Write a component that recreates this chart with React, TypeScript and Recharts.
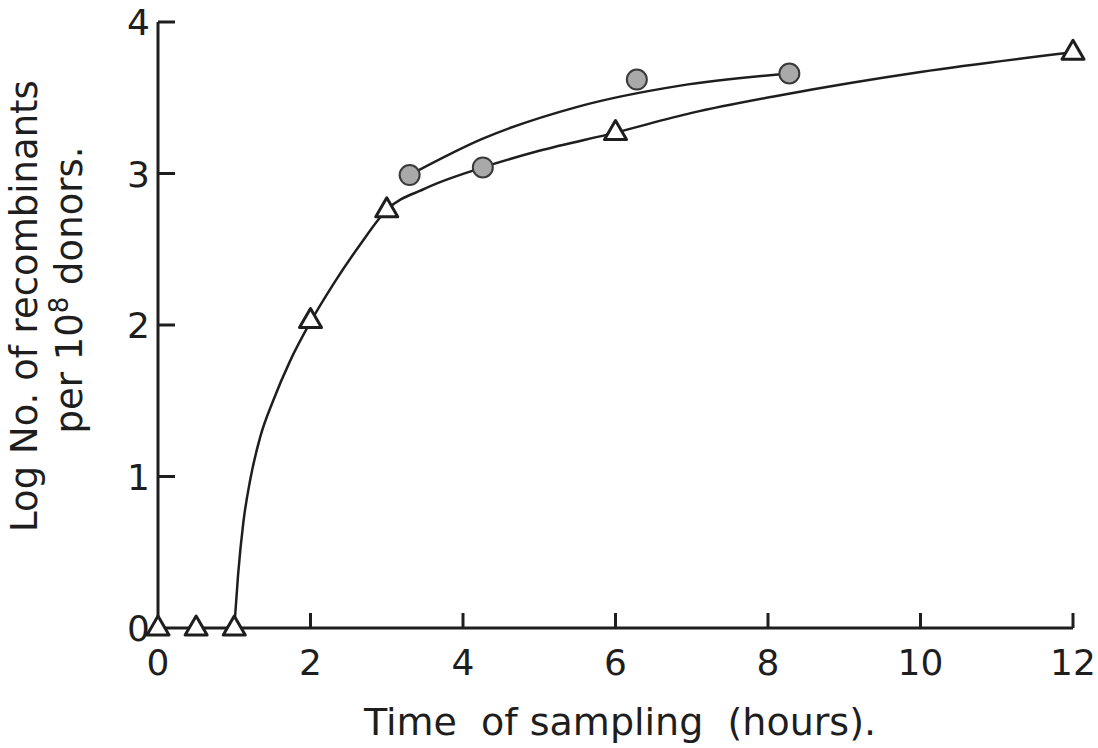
import React from 'react';
import { ComposedChart, Line, Scatter, XAxis, YAxis } from 'recharts';

// tick values
const xTicks = [0, 2, 4, 6, 8, 10, 12];
const yTicks = [0, 1, 2, 3, 4];

// triangle series (open triangles)
const triangleX = [0, 0.5, 1, 2, 3, 6, 12];
const triangleY = [0, 0, 0, 2.03, 2.76, 3.27, 3.8];

// circle series (grey filled circles)
const circleX = [3.3, 4.26, 6.28, 8.28];
const circleY = [2.99, 3.04, 3.62, 3.66];

// hand-drawn fitted curves
const lowerCurveX = [1, 1.05, 1.12, 1.21, 1.34, 1.51, 1.73, 2, 2.3, 2.65, 3, 3.5, 4.26, 5, 6, 7, 8.2, 10, 12];
const lowerCurveY = [0, 0.35, 0.7, 0.98, 1.26, 1.5, 1.76, 2.02, 2.27, 2.53, 2.76, 2.9, 3.04, 3.15, 3.27, 3.4, 3.52, 3.67, 3.8];
const upperCurveX = [3.3, 4.26, 5.5, 6.85, 8.28];
const upperCurveY = [2.99, 3.23, 3.44, 3.58, 3.66];

const zip = (xs: number[], ys: number[]) => xs.map((x, i) => ({ x, y: ys[i] }));

const triangles = zip(triangleX, triangleY);
const circles = zip(circleX, circleY);
const lowerCurve = zip(lowerCurveX, lowerCurveY);
const upperCurve = zip(upperCurveX, upperCurveY);

const INK = '#1e1e1e';
const FONT = '"DejaVu Sans", sans-serif';

const XTick = (props: any) => {
  const { x, y, payload } = props;
  return (
    <g>
      {payload.value !== 0 && <line x1={x} y1={y} x2={x} y2={y - 15} stroke={INK} strokeWidth={3} />}
      <text x={x} y={y + 47} textAnchor="middle" fontSize={36} fontFamily={FONT} fill={INK}>
        {payload.value}
      </text>
    </g>
  );
};

const YTick = (props: any) => {
  const { x, y, payload } = props;
  return (
    <g>
      {payload.value !== 0 && <line x1={x} y1={y} x2={x + 17} y2={y} stroke={INK} strokeWidth={3} />}
      <text x={x - 8} y={y + 13} textAnchor="end" fontSize={36} fontFamily={FONT} fill={INK}>
        {payload.value}
      </text>
    </g>
  );
};

const YTitle = () => (
  <g fontFamily={FONT} fill={INK}>
    <text x={37} y={306} textAnchor="middle" fontSize={37} transform="rotate(-90, 37, 306)">
      Log No. of recombinants
    </text>
    <text x={82} y={290} textAnchor="middle" fontSize={37} transform="rotate(-90, 82, 290)">
      <tspan>per 10</tspan>
      <tspan fontSize={26} dy={-14}>8</tspan>
      <tspan dy={14}> donors.</tspan>
    </text>
  </g>
);

const XTitle = () => (
  <text
    x={620}
    y={735}
    textAnchor="middle"
    fontSize={38}
    fontFamily={FONT}
    fill={INK}
    style={{ whiteSpace: 'pre' }}
  >
    {'Time  of sampling  (hours).'}
  </text>
);

const Triangle = (props: any) => {
  const { cx, cy } = props;
  return (
    <polygon
      points={`${cx},${cy - 12} ${cx - 11},${cy + 7} ${cx + 11},${cy + 7}`}
      fill="#fff"
      stroke={INK}
      strokeWidth={3}
      strokeLinejoin="round"
    />
  );
};

const Dot = (props: any) => {
  const { cx, cy } = props;
  return <circle cx={cx} cy={cy} r={10} fill="#a9a9a9" stroke="#3a3a3a" strokeWidth={2} />;
};

export default function App() {
  return (
    <div style={{ position: 'absolute', left: 0, top: 0, width: 1098, height: 748, background: '#fff' }}>
      <ComposedChart width={1098} height={748} margin={{ top: 22, right: 25, left: 98, bottom: 90 }}>
        <XAxis
          type="number"
          dataKey="x"
          domain={[0, 12]}
          ticks={xTicks}
          height={30}
          tickSize={0}
          tickMargin={0}
          tickLine={false}
          tick={<XTick />}
          axisLine={{ stroke: INK, strokeWidth: 3 }}
          label={<XTitle />}
        />
        <YAxis
          type="number"
          dataKey="y"
          domain={[0, 4]}
          ticks={yTicks}
          width={60}
          tickSize={0}
          tickMargin={0}
          tickLine={false}
          tick={<YTick />}
          axisLine={{ stroke: INK, strokeWidth: 3 }}
          label={<YTitle />}
        />
        <Line data={lowerCurve} dataKey="y" type="monotone" stroke={INK} strokeWidth={2.5} dot={false} isAnimationActive={false} />
        <Line data={upperCurve} dataKey="y" type="monotone" stroke={INK} strokeWidth={2.5} dot={false} isAnimationActive={false} />
        <Scatter data={circles} dataKey="y" shape={<Dot />} isAnimationActive={false} />
        <Scatter data={triangles} dataKey="y" shape={<Triangle />} isAnimationActive={false} />
      </ComposedChart>
    </div>
  );
}
